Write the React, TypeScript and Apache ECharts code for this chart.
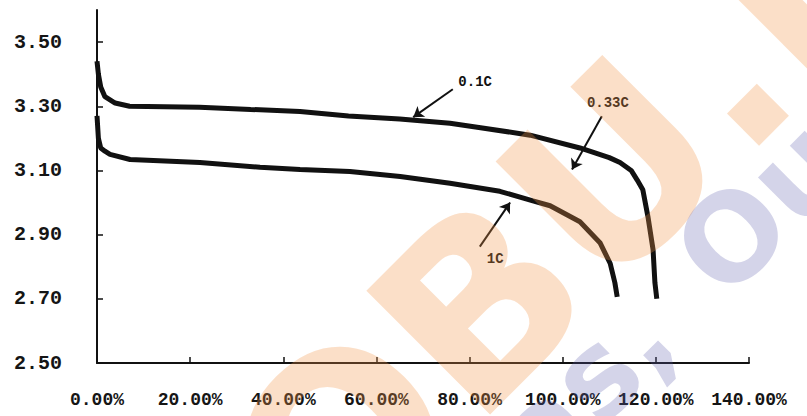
import React, { useEffect, useRef } from 'react';
import * as echarts from 'echarts';

// X axis: discharge capacity (%), Y axis: voltage (V)
const xTickValues = [0, 20, 40, 60, 80, 100, 120, 140];
const yTickValues = [2.5, 2.7, 2.9, 3.1, 3.3, 3.5];

// 0.1C / 0.33C upper curve
const capUpper = [0, 0.3, 0.8, 1.7, 3.9, 7, 22, 33, 43.6, 54, 65, 75.8, 82, 93, 103.7, 110, 112.3, 114.7, 116, 117.2, 118.3, 119.4, 119.8, 120.2];
const voltUpper = [3.44, 3.4, 3.36, 3.33, 3.31, 3.3, 3.297, 3.29, 3.284, 3.27, 3.26, 3.247, 3.234, 3.21, 3.17, 3.14, 3.125, 3.1, 3.07, 3.04, 2.956, 2.853, 2.75, 2.7];

// 1C lower curve
const capLower = [0, 0.3, 0.8, 1.7, 2.8, 7.1, 22.1, 35, 43.6, 54.3, 65.1, 75.8, 86.5, 93.6, 97.3, 103.7, 108, 110.2, 111.2, 111.7];
const voltLower = [3.27, 3.2, 3.17, 3.16, 3.15, 3.134, 3.125, 3.11, 3.103, 3.097, 3.081, 3.06, 3.035, 3.005, 2.99, 2.94, 2.875, 2.81, 2.75, 2.706];

// Annotations (data coordinates): label, label position, arrow start, arrow end
const annLabels = ['0.1C', '0.33C', '1C'];
const annLabelPos = [[81.2, 3.375], [109.7, 3.309], [85.5, 2.825]];
const annArrowFrom = [[76.4, 3.353], [108.4, 3.269], [82.2, 2.8625]];
const annArrowTo = [[67.9, 3.266], [102, 3.103], [88.7, 3.0]];

const FONT = "'Liberation Mono', 'DejaVu Sans Mono', monospace";

export default function App() {
  const ref = useRef<HTMLDivElement>(null);
  useEffect(() => {
    const chart = echarts.init(ref.current!, null, { renderer: 'svg' });
    const upper = capUpper.map((c, i) => [c, voltUpper[i]]);
    const lower = capLower.map((c, i) => [c, voltLower[i]]);
    const SQ = Math.SQRT1_2;
    const wm = (bx: number, by: number, S: number) => [bx - 0.35 * S * SQ, by - 0.35 * S * SQ];
    const wmOrange = wm(331, 575, 240);
    const wmPurple1 = wm(543, 488, 120);
    const wmPurple2 = wm(726, 303, 120);
    const wmText = (p: number[], text: string, size: number, fill: string) => ({
      type: 'text',
      x: p[0],
      y: p[1],
      rotation: Math.PI / 4,
      z: 100,
      silent: true,
      style: {
        text,
        font: `bold ${size}px 'DejaVu Sans'`,
        fill,
        align: 'left',
        verticalAlign: 'middle',
      },
    });
    chart.setOption({
      animation: false,
      backgroundColor: '#ffffff',
      grid: { left: 97, right: 58, top: 10, bottom: 53, containLabel: false },
      xAxis: {
        type: 'value',
        min: 0,
        max: 140,
        interval: 20,
        axisLine: { show: true, lineStyle: { color: '#111', width: 2 } },
        axisTick: { show: true, inside: true, length: 6, lineStyle: { color: '#111', width: 1.5 } },
        splitLine: { show: false },
        axisLabel: {
          color: '#151515',
          fontFamily: FONT,
          fontSize: 18,
          fontWeight: 'bold',
          margin: 28,
          formatter: (v: number) => v.toFixed(2) + '%',
          customValues: xTickValues,
        },
      },
      yAxis: {
        type: 'value',
        min: 2.5,
        max: 3.6,
        axisLine: { show: true, lineStyle: { color: '#111', width: 2 } },
        axisTick: { show: true, inside: true, length: 6, customValues: yTickValues, lineStyle: { color: '#111', width: 1.5 } },
        splitLine: { show: false },
        axisLabel: {
          color: '#151515',
          fontFamily: FONT,
          fontSize: 20,
          fontWeight: 'bold',
          margin: 35,
          customValues: yTickValues,
          formatter: (v: number) => v.toFixed(2),
        },
      },
      series: [
        {
          name: '0.1C / 0.33C',
          type: 'line',
          data: upper,
          showSymbol: false,
          symbol: 'none',
          lineStyle: { color: '#111', width: 5 },
          markLine: {
            silent: true,
            symbol: ['none', 'arrow'],
            symbolSize: 10,
            lineStyle: { color: '#111', width: 2, type: 'solid' },
            label: { show: false },
            data: annArrowFrom.map((f, i) => [
              { coord: f, symbol: 'none' },
              { coord: annArrowTo[i], symbol: 'arrow', symbolSize: 10 },
            ]),
          },
          markPoint: {
            silent: true,
            symbol: 'circle',
            symbolSize: 0,
            data: annLabels.map((t, i) => ({
              coord: annLabelPos[i],
              value: t,
              label: {
                show: true,
                formatter: t,
                color: '#111',
                fontFamily: FONT,
                fontSize: 14,
                fontWeight: 'bold',
                position: 'inside',
              },
            })),
          },
        },
        {
          name: '1C',
          type: 'line',
          data: lower,
          showSymbol: false,
          symbol: 'none',
          lineStyle: { color: '#111', width: 5 },
        },
      ],
      graphic: [
        wmText(wmOrange, 'OBU.I', 240, 'rgba(242,150,72,0.3)'),
        wmText(wmPurple1, 'as,', 120, 'rgba(95,95,175,0.27)'),
        wmText(wmPurple2, 'Our', 120, 'rgba(95,95,175,0.27)'),
      ],
    });
    return () => chart.dispose();
  }, []);
  return <div ref={ref} style={{ position: 'fixed', left: 0, top: 0, width: 807, height: 416 }} />;
}
